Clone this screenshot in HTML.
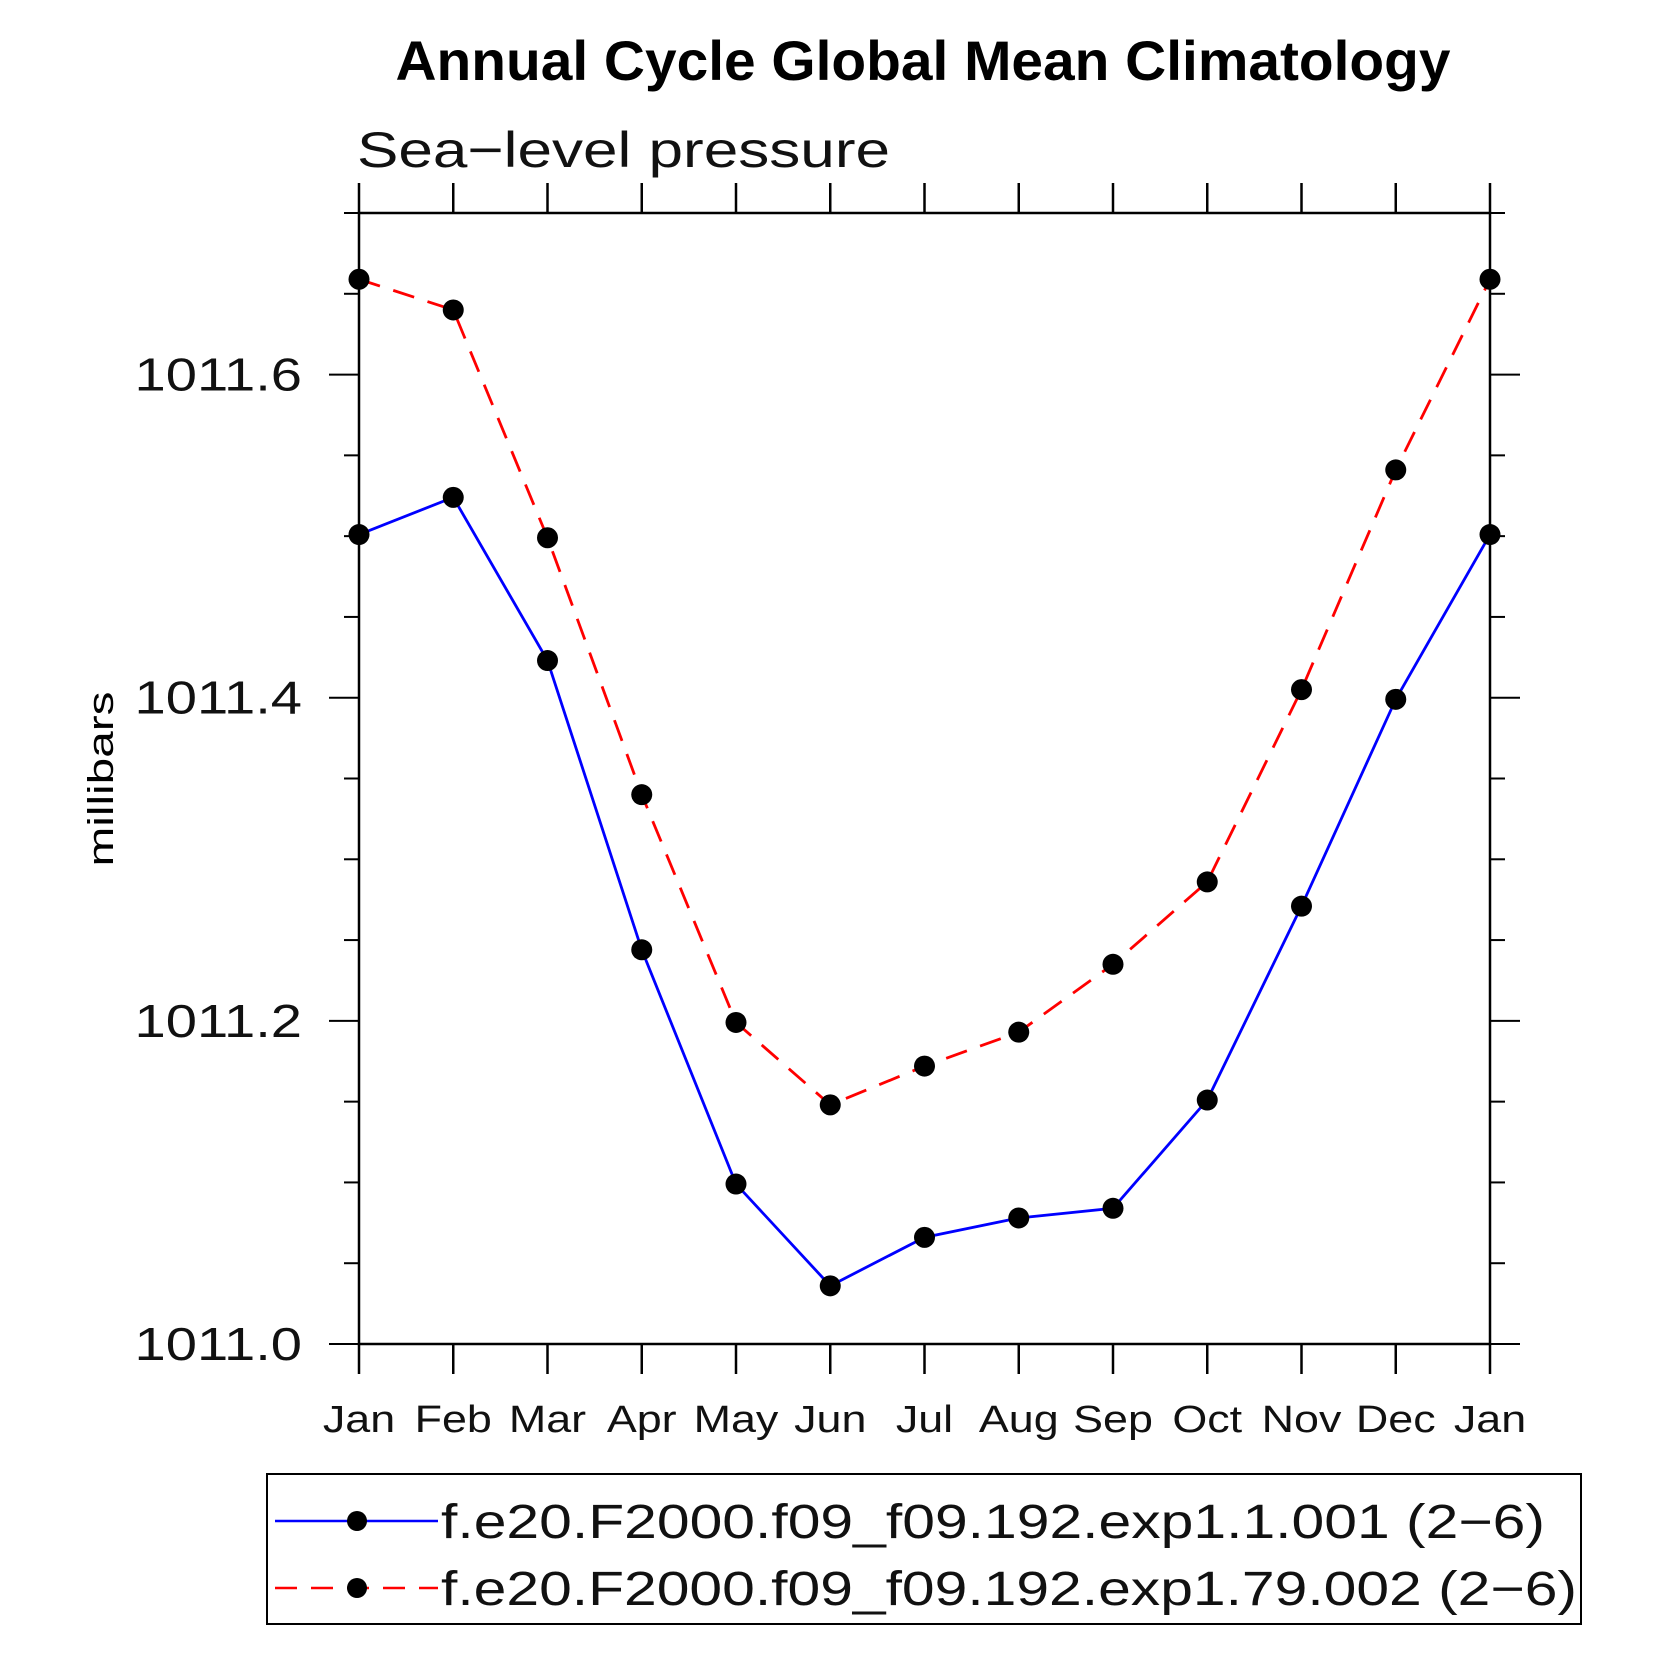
<!DOCTYPE html>
<html><head><meta charset="utf-8"><style>
html,body{margin:0;padding:0;background:#fff}
svg{display:block}
text{font-family:"Liberation Sans",sans-serif}
</style></head><body>
<svg id="chart" width="1663" height="1663" viewBox="0 0 1663 1663">
<text x="923" y="80" font-size="56" font-weight="bold" text-anchor="middle" textLength="1055" lengthAdjust="spacingAndGlyphs">Annual Cycle Global Mean Climatology</text>
<text x="357" y="167" font-size="50" fill="#111" textLength="533" lengthAdjust="spacingAndGlyphs">Sea−level pressure</text>
<text transform="translate(113,779) rotate(-90)" font-size="36" text-anchor="middle" textLength="175" lengthAdjust="spacingAndGlyphs">millibars</text>
<g id="axes"></g>
<g id="series"></g>
<rect x="267" y="1474" width="1314" height="150" fill="none" stroke="#000" stroke-width="2"/>
<g>
<line x1="275" y1="1521" x2="438" y2="1521" stroke="#00f" stroke-width="2.5"/>
<circle cx="357" cy="1521" r="10"/>
<text x="441" y="1538" font-size="48" fill="#111" textLength="1104" lengthAdjust="spacingAndGlyphs">f.e20.F2000.f09_f09.192.exp1.1.001 (2−6)</text>
</g>
<g>
<line x1="275" y1="1588" x2="438" y2="1588" stroke="#f00" stroke-width="2.5" stroke-dasharray="22,14"/>
<circle cx="357" cy="1588" r="10"/>
<text x="441" y="1605" font-size="48" fill="#111" textLength="1136" lengthAdjust="spacingAndGlyphs">f.e20.F2000.f09_f09.192.exp1.79.002 (2−6)</text>
</g>
</svg>
<script>
const months=["Jan","Feb","Mar","Apr","May","Jun","Jul","Aug","Sep","Oct","Nov","Dec","Jan"];
const seriesBlue=[1011.501,1011.524,1011.423,1011.244,1011.099,1011.036,1011.066,1011.078,1011.084,1011.151,1011.271,1011.399,1011.501];
const seriesRed=[1011.659,1011.640,1011.499,1011.340,1011.199,1011.148,1011.172,1011.193,1011.235,1011.286,1011.405,1011.541,1011.659];
const yTicks=[1011.0,1011.2,1011.4,1011.6];
const yTickLabels=["1011.0","1011.2","1011.4","1011.6"];
const yMin=1011.0,yMax=1011.7;
const L=359,R=1490,T=213,B=1344;
const NS="http://www.w3.org/2000/svg";
function xs(i){return L+(R-L)*i/(months.length-1);}
function ys(v){return B-(B-T)*(v-yMin)/(yMax-yMin);}
function mk(tag,attrs,parent){const e=document.createElementNS(NS,tag);for(const k in attrs)e.setAttribute(k,attrs[k]);parent.appendChild(e);return e;}
function widen(t,f){const w=t.getComputedTextLength();t.setAttribute('textLength',w*f);t.setAttribute('lengthAdjust','spacingAndGlyphs');}
const ax=document.getElementById('axes');
const frame=mk('rect',{x:L,y:T,width:R-L,height:B-T,fill:'none',stroke:'#000','stroke-width':2.5},ax);


months.forEach((m,i)=>{
  const x=xs(i);
  const t1=mk('line',{x1:x,y1:B,x2:x,y2:B+30,stroke:'#000','stroke-width':2.5},ax);
  
  
  const t2=mk('line',{x1:x,y1:T,x2:x,y2:T-30,stroke:'#000','stroke-width':2.5},ax);
  
  
  const lb=mk('text',{x:x,y:1432,'font-size':38,'text-anchor':'middle',fill:'#111'},ax);
  lb.textContent=m;
  
  
  widen(lb,1.18);
});
for(let v=yMin;v<=yMax+1e-9;v+=0.05){
  const major=Math.abs(Math.round(v*10)/10-v)<1e-6 && Math.round(v*10)%2===0;
  const len=major?30:15;const y=ys(v);
  const a=mk('line',{x1:L-len,y1:y,x2:L,y2:y,stroke:'#000','stroke-width':2},ax);
  
  
  const b=mk('line',{x1:R,y1:y,x2:R+len,y2:y,stroke:'#000','stroke-width':2},ax);
  
  
}
yTicks.forEach((v,i)=>{
  const t=mk('text',{x:302,y:ys(v)+16,'font-size':46,'text-anchor':'end',fill:'#111'},ax);
  t.textContent=yTickLabels[i];
  
  
  widen(t,1.22);
});
const sg=document.getElementById('series');
function drawSeries(vals,color,dash,name){
  const pts=vals.map((v,i)=>xs(i)+','+ys(v)).join(' ');
  const pl=mk('polyline',{points:pts,fill:'none',stroke:color,'stroke-width':2.8,'stroke-dasharray':dash},sg);
  
  
  vals.forEach((v,i)=>{
    const c=mk('circle',{cx:xs(i),cy:ys(v),r:10.5,fill:'#000'},sg);
    
    
  });
}
drawSeries(seriesRed,'#f00','22,14','exp1-79-002');
drawSeries(seriesBlue,'#00f','none','exp1-1-001');
</script>
</body></html>
